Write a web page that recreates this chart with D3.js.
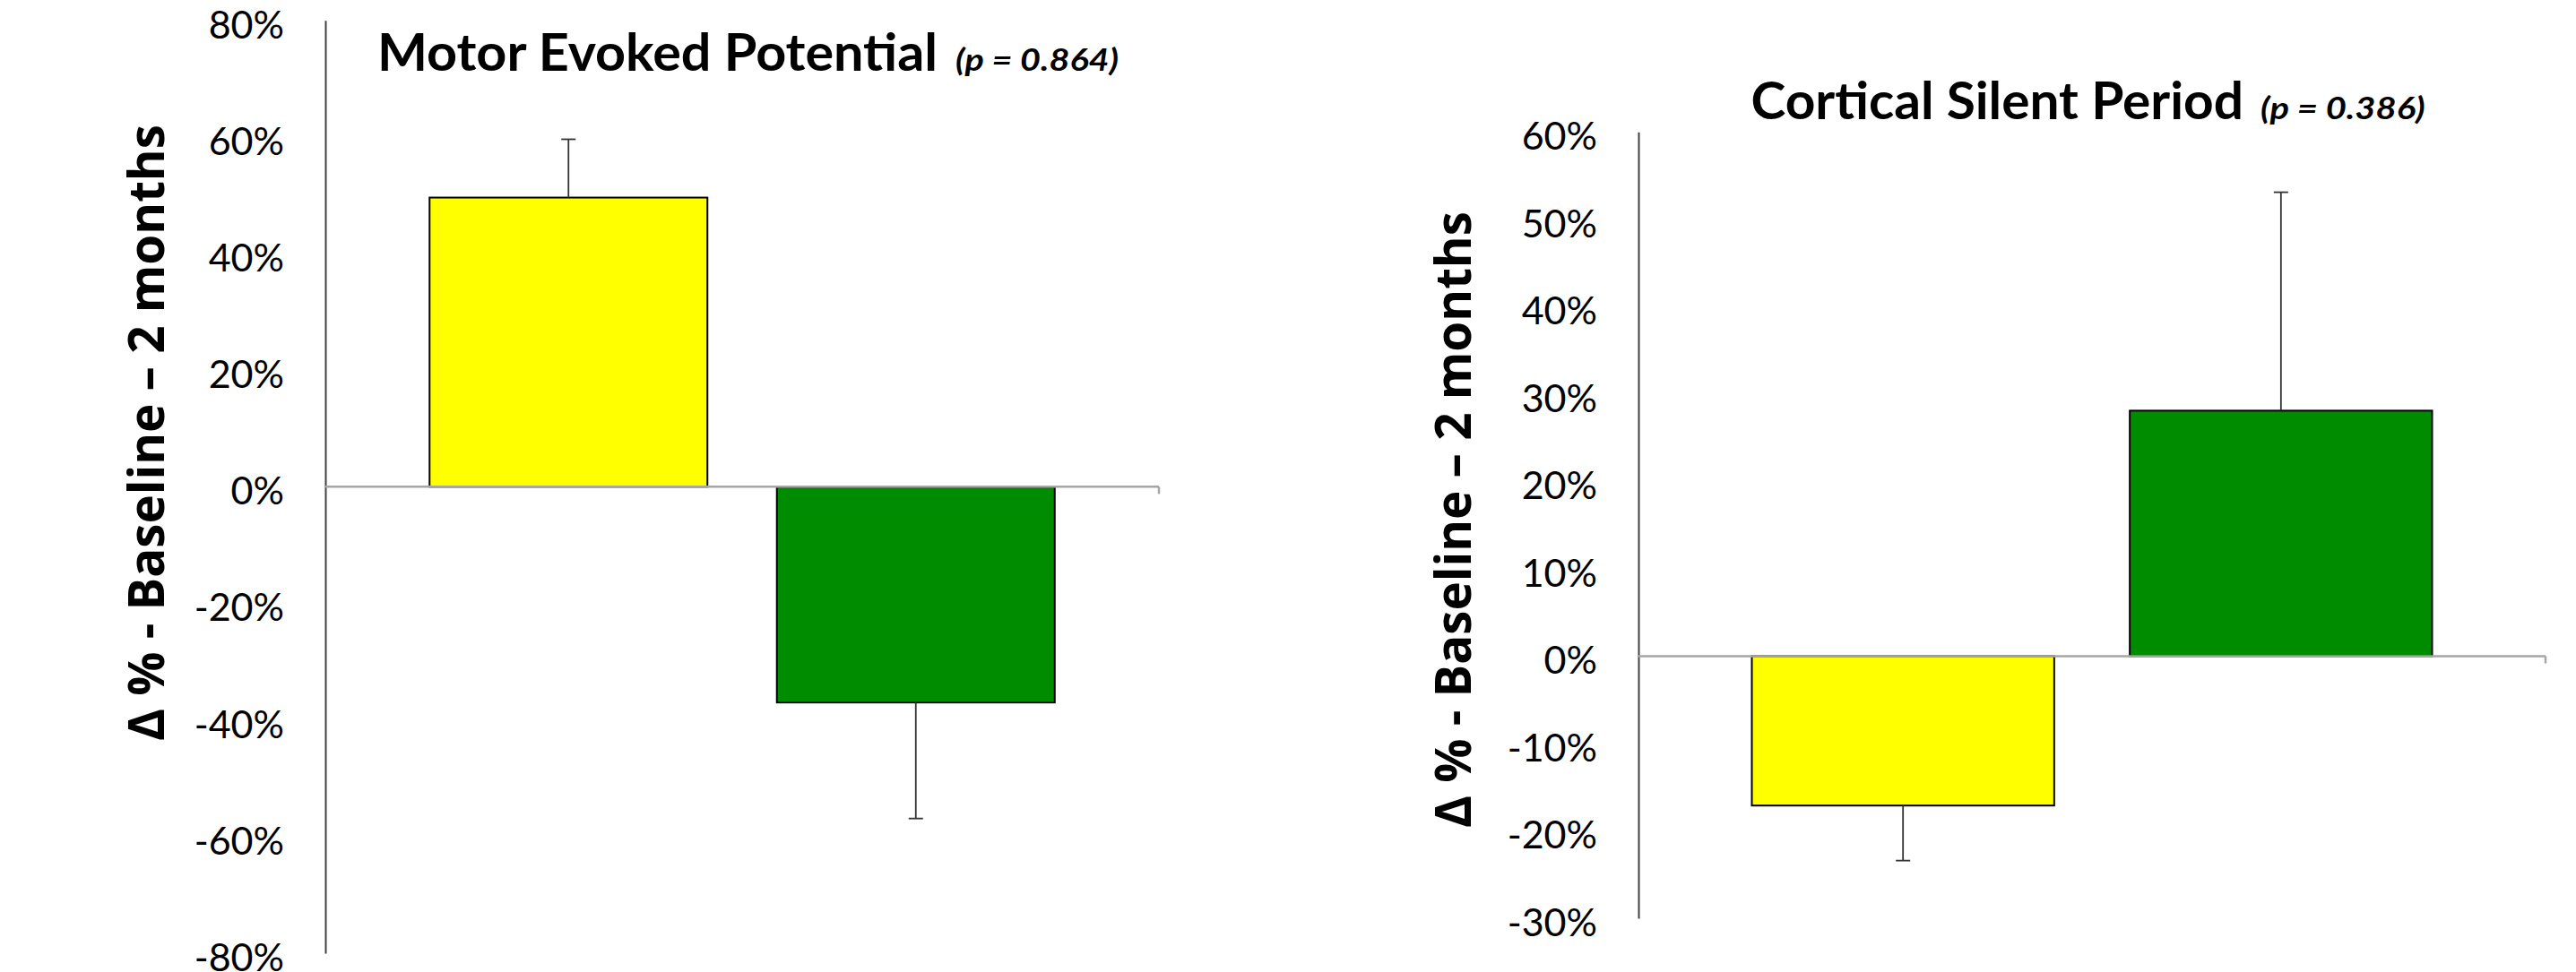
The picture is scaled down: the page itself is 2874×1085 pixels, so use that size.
<!DOCTYPE html>
<html>
<head>
<meta charset="utf-8">
<script src="https://cdn.jsdelivr.net/npm/d3@7"></script>
<style>
  html, body { margin: 0; padding: 0; background: #ffffff; }
  svg { display: block; }
</style>
</head>
<body>
<svg id="chart" width="2874" height="1085"></svg>
<script>
// ---------------- data ----------------
const groups = ["Group 1", "Group 2"];

const mepValues = [49.6, -37.0];
const mepErrors = [10.0, 19.9];
const mepTicks  = [-80, -60, -40, -20, 0, 20, 40, 60, 80];
const mepTitle  = "Motor Evoked Potential";
const mepP      = "(p = 0.864)";

const cspValues = [-17.1, 28.1];
const cspErrors = [6.3, 25.0];
const cspTicks  = [-30, -20, -10, 0, 10, 20, 30, 40, 50, 60];
const cspTitle  = "Cortical Silent Period";
const cspP      = "(p = 0.386)";

const yAxisTitle = "Δ % - Baseline – 2 months";

// ---------------- styles / layout ----------------
const barColors = ["#FFFF00", "#008C00"];

const panels = [
  { title: mepTitle, p: mepP, values: mepValues, errors: mepErrors, ticks: mepTicks,
    L: { x0: 363, x1: 1293, yTop: 22.7, yBot: 1064,
         titleX: 421, titleY: 79, titleLen: 625, pX: 1066, pLen: 182,
         ytX: 183, ytY: 483, ytLen: 688 } },
  { title: cspTitle, p: cspP, values: cspValues, errors: cspErrors, ticks: cspTicks,
    L: { x0: 1828, x1: 2840, yTop: 147.3, yBot: 1025,
         titleX: 1953.5, titleY: 132.7, titleLen: 549.5, pX: 2522, pLen: 183.6,
         ytX: 1641, ytY: 580, ytLen: 688 } }
];

const svg = d3.select("#chart");

panels.forEach(P => {
  const L = P.L;
  const g = svg.append("g");

  const y = d3.scaleLinear()
    .domain([d3.min(P.ticks), d3.max(P.ticks)])
    .range([L.yBot, L.yTop]);

  const x = d3.scaleBand()
    .domain(groups)
    .range([L.x0, L.x1])
    .paddingInner(0.2)
    .paddingOuter(0.3);

  // y axis
  const ax = g.append("g")
    .attr("transform", `translate(${L.x0},0)`)
    .call(d3.axisLeft(y).tickValues(P.ticks).tickSize(0).tickPadding(46)
      .tickFormat(d => d + "%"));
  ax.select(".domain").attr("stroke", "#404040").attr("stroke-width", 2);
  ax.selectAll(".tick text")
    .attr("fill", "#000")
    .attr("dy", "0.45em")
    .style("font-family", "Lato, 'Open Sans', sans-serif")
    .style("font-size", "43px");

  // bars
  const data = groups.map((k, i) => ({ k, v: P.values[i], e: P.errors[i], c: barColors[i] }));
  g.selectAll("rect.bar").data(data).enter().append("rect")
    .attr("class", "bar")
    .attr("x", d => x(d.k))
    .attr("width", x.bandwidth())
    .attr("y", d => Math.min(y(d.v), y(0)))
    .attr("height", d => Math.abs(y(d.v) - y(0)))
    .attr("fill", d => d.c)
    .attr("stroke", "#000")
    .attr("stroke-width", 2);

  // error bars (one-sided, away from zero)
  const capW = 16;
  const eb = g.selectAll("g.err").data(data).enter().append("g").attr("class", "err");
  eb.append("line")
    .attr("x1", d => x(d.k) + x.bandwidth() / 2)
    .attr("x2", d => x(d.k) + x.bandwidth() / 2)
    .attr("y1", d => y(d.v))
    .attr("y2", d => y(d.v + Math.sign(d.v) * d.e))
    .attr("stroke", "#333").attr("stroke-width", 1.8);
  eb.append("line")
    .attr("x1", d => x(d.k) + x.bandwidth() / 2 - capW / 2)
    .attr("x2", d => x(d.k) + x.bandwidth() / 2 + capW / 2)
    .attr("y1", d => y(d.v + Math.sign(d.v) * d.e))
    .attr("y2", d => y(d.v + Math.sign(d.v) * d.e))
    .attr("stroke", "#333").attr("stroke-width", 1.8);

  // zero (category) axis line
  const r = x.range();
  g.append("line")
    .attr("x1", r[0]).attr("x2", r[1])
    .attr("y1", y(0)).attr("y2", y(0))
    .attr("stroke", "#a6a6a6").attr("stroke-width", 2.5);
  g.append("line")
    .attr("x1", r[1]).attr("x2", r[1])
    .attr("y1", y(0)).attr("y2", y(0) + 8)
    .attr("stroke", "#a6a6a6").attr("stroke-width", 2.5);

  // chart title
  g.append("text")
    .attr("x", L.titleX).attr("y", L.titleY)
    .attr("textLength", L.titleLen).attr("lengthAdjust", "spacingAndGlyphs")
    .style("font-family", "Lato, 'Open Sans', sans-serif")
    .style("font-weight", 700)
    .style("font-size", "57px")
    .attr("fill", "#000")
    .text(P.title);
  g.append("text")
    .attr("x", L.pX).attr("y", L.titleY)
    .attr("textLength", L.pLen).attr("lengthAdjust", "spacingAndGlyphs")
    .style("font-family", "Lato, 'Open Sans', sans-serif")
    .style("font-weight", 700)
    .style("font-style", "italic")
    .style("font-size", "34px")
    .attr("fill", "#000")
    .text(P.p);

  // y axis title
  g.append("text")
    .attr("transform", `translate(${L.ytX},${L.ytY}) rotate(-90)`)
    .attr("text-anchor", "middle")
    .attr("textLength", L.ytLen).attr("lengthAdjust", "spacingAndGlyphs")
    .style("font-family", "'Open Sans', 'DejaVu Sans', sans-serif")
    .style("font-weight", 700)
    .style("font-size", "55px")
    .attr("fill", "#000")
    .text(yAxisTitle);
});
</script>
</body>
</html>
